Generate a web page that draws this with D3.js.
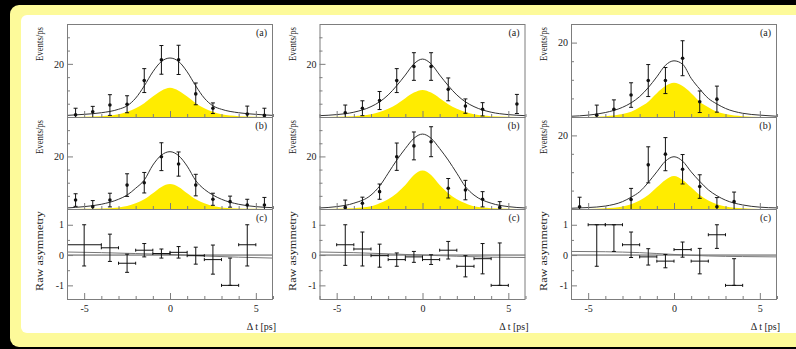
<!DOCTYPE html>
<html>
<head>
<meta charset="utf-8">
<script src="https://cdn.jsdelivr.net/npm/d3@7"></script>
<style>
  html, body { margin: 0; padding: 0; background: #000; }
  svg { display: block; }
  text { font-family: "Liberation Serif", "DejaVu Serif", serif; fill: #222; }
</style>
</head>
<body>
<svg id="chart" width="796" height="349"></svg>
<script>
// Sample points of the fitted curves (delta t in ps)
const curveT = [-6, -5, -4, -3, -2.5, -2, -1.5, -1, -0.5, 0, 0.5, 1, 1.5, 2, 2.5, 3, 4, 5, 6];

// column 1
const c1TotalA  = [0.6, 1.0, 1.6, 2.9, 4.2, 7.1, 11.7, 17.0, 20.9, 22.2, 20.9, 17.0, 11.7, 7.1, 4.2, 2.9, 1.6, 1.0, 0.6];
const c1SignalA = [0, 0.1, 0.3, 1.0, 2.0, 3.3, 5.2, 7.7, 9.9, 11.0, 9.9, 7.7, 5.2, 3.3, 2.0, 1.0, 0.3, 0.1, 0];
const c1TotalB  = [0.4, 0.9, 1.8, 3.7, 5.3, 7.9, 11.0, 16.7, 20.5, 21.8, 20.3, 16.3, 10.8, 7.5, 5.3, 3.7, 1.8, 0.9, 0.5];
const c1SignalB = [0, 0.1, 0.2, 0.6, 1.1, 2.2, 3.7, 6.0, 8.4, 9.5, 8.4, 6.0, 3.7, 2.2, 1.1, 0.6, 0.2, 0.1, 0];
// column 2
const c2TotalA  = [0.5, 0.9, 1.8, 3.9, 5.7, 8.3, 11.8, 15.8, 20.0, 21.8, 20.0, 15.8, 11.8, 8.3, 5.7, 3.9, 1.8, 0.9, 0.5];
const c2SignalA = [0, 0.1, 0.3, 1.0, 1.9, 3.1, 4.8, 7.1, 9.2, 10.2, 9.2, 7.1, 4.8, 3.1, 1.9, 1.0, 0.3, 0.1, 0];
const c2TotalB  = [0.4, 0.9, 2.2, 5.3, 8.7, 13.6, 18.6, 23.0, 26.9, 28.5, 26.9, 23.0, 18.6, 13.6, 8.5, 5.3, 2.2, 0.9, 0.4];
const c2SignalB = [0, 0.1, 0.3, 1.0, 2.2, 3.7, 6.0, 9.1, 12.9, 14.6, 12.9, 9.1, 6.0, 3.7, 2.2, 1.0, 0.3, 0.1, 0];
// column 3
const c3TotalA  = [0.2, 0.5, 1.2, 2.6, 3.8, 5.5, 7.9, 10.8, 13.9, 15.1, 14.2, 10.4, 7.5, 5.0, 3.5, 2.3, 1.0, 0.5, 0.2];
const c3SignalA = [0, 0, 0.2, 0.8, 1.4, 2.6, 4.1, 6.4, 8.3, 9.2, 8.3, 6.4, 4.1, 2.6, 1.4, 0.8, 0.2, 0, 0];
const c3TotalB  = [0.2, 0.4, 0.8, 2.0, 3.2, 4.7, 7.2, 10.1, 13.0, 14.2, 13.0, 10.1, 7.5, 5.2, 3.6, 2.4, 1.1, 0.5, 0.3];
const c3SignalB = [0, 0, 0.2, 0.7, 1.3, 2.3, 3.8, 5.9, 7.9, 9.0, 7.9, 5.9, 3.8, 2.3, 1.3, 0.7, 0.2, 0, 0];

// histogram points: [delta t, events/ps, error]
const c1PointsA = [[-5.5, 0.8, 2.5], [-4.5, 2.0, 2.0], [-3.5, 4.5, 3.9], [-2.5, 4.8, 3.2], [-1.5, 13.7, 4.5], [-0.5, 21.5, 5.4], [0.5, 21.5, 5.5], [1.5, 8.7, 4.1], [2.5, 3.3, 2.0], [4.5, 1.1, 3.0], [5.5, 0.6, 2.7]];
const c1PointsB = [[-5.5, 3.4, 2.4], [-4.5, 0.9, 2.3], [-3.5, 3.4, 2.6], [-2.5, 9.1, 4.3], [-1.5, 10.0, 3.9], [-0.5, 19.9, 5.3], [0.5, 17.1, 4.6], [1.5, 9.1, 4.1], [2.5, 3.7, 2.3], [3.5, 2.8, 2.1], [4.5, 1.5, 2.2], [5.5, 1.5, 2.9]];
const c2PointsA = [[-4.5, 1.6, 2.9], [-3.5, 3.3, 2.8], [-2.5, 6.2, 3.4], [-1.5, 13.7, 4.5], [-0.5, 19.0, 5.2], [0.5, 19.0, 5.2], [1.5, 10.4, 4.3], [2.5, 4.1, 2.7], [3.5, 2.9, 2.5], [5.5, 4.9, 3.6]];
const c2PointsB = [[-4.5, 0.6, 2.8], [-3.5, 2.2, 2.3], [-2.5, 6.6, 2.9], [-1.5, 19.9, 5.2], [-0.5, 24.0, 5.3], [0.5, 25.6, 5.7], [1.5, 7.9, 3.7], [2.5, 7.2, 3.7], [3.5, 3.7, 2.9], [4.5, 0.6, 2.2]];
const c3PointsA = [[-4.5, 0.5, 2.7], [-3.5, 2.1, 2.5], [-2.5, 5.9, 3.3], [-1.5, 9.8, 4.3], [-0.5, 9.8, 3.5], [0.5, 15.8, 4.7], [1.5, 4.1, 2.9], [2.5, 4.8, 3.5]];
const c3PointsB = [[-5.5, 0.6, 2.6], [-2.5, 2.6, 3.0], [-1.5, 12.0, 4.9], [-0.5, 14.9, 4.5], [0.5, 10.8, 4.0], [1.5, 6.1, 3.2], [2.5, 0.6, 2.5], [3.5, 2.0, 2.6]];

// raw asymmetry: [delta t, half bin width, asymmetry, error]
const c1Asym = [[-5, 1, 0.34, 0.7], [-3.5, 0.5, 0.24, 0.45], [-2.5, 0.5, -0.27, 0.3], [-1.5, 0.5, 0.16, 0.22], [-0.5, 0.5, 0.05, 0.15], [0.5, 0.5, 0.09, 0.19], [1.5, 0.5, -0.02, 0.28], [2.5, 0.5, -0.15, 0.48], [3.5, 0.5, -1.0, 0.9], [4.5, 0.5, 0.34, 0.7]];
const c2Asym = [[-4.5, 0.5, 0.34, 0.68], [-3.5, 0.5, 0.2, 0.56], [-2.5, 0.5, -0.02, 0.38], [-1.5, 0.5, -0.15, 0.22], [-0.5, 0.5, -0.06, 0.18], [0.5, 0.5, -0.15, 0.16], [1.5, 0.5, 0.16, 0.29], [2.5, 0.5, -0.37, 0.35], [3.5, 0.5, -0.12, 0.5], [4.5, 0.5, -1.0, 1.4]];
const c3Asym = [[-4.5, 0.5, 1.0, 1.37], [-3.5, 0.5, 1.0, 0.88], [-2.5, 0.5, 0.34, 0.42], [-1.5, 0.5, -0.06, 0.27], [-0.5, 0.5, -0.2, 0.22], [0.5, 0.5, 0.18, 0.25], [1.5, 0.5, -0.2, 0.42], [2.5, 0.5, 0.67, 0.45], [3.5, 0.5, -1.0, 0.88]];

// asymmetry fit lines
const asymT = [-6, -4, -2, 0, 2, 4, 6];
const c1AsymFit = [0.1, 0.08, 0.05, 0.02, -0.03, -0.07, -0.1];
const c2AsymFit = [0.1, 0.08, 0.04, 0, -0.04, -0.07, -0.08];
const c3AsymFit = [0.12, 0.11, 0.08, 0.02, -0.03, -0.05, -0.06];

// axis ticks
const xMajor = [-5, 0, 5];
const xMinor = [-6, -4, -3, -2, -1, 1, 2, 3, 4, 6];
const asymMajor = [-1, 0, 1];
const asymMinor = [-0.5, 0.5];

const columns = [
  { x0: 67,    yMax: 35, totA: c1TotalA, sigA: c1SignalA, totB: c1TotalB, sigB: c1SignalB, ptsA: c1PointsA, ptsB: c1PointsB, asym: c1Asym, fit: c1AsymFit },
  { x0: 319.5, yMax: 35, totA: c2TotalA, sigA: c2SignalA, totB: c2TotalB, sigB: c2SignalB, ptsA: c2PointsA, ptsB: c2PointsB, asym: c2Asym, fit: c2AsymFit },
  { x0: 571,   yMax: 25, totA: c3TotalA, sigA: c3SignalA, totB: c3TotalB, sigB: c3SignalB, ptsA: c3PointsA, ptsB: c3PointsB, asym: c3Asym, fit: c3AsymFit }
];

const panelW = 206;
const rowA = [24, 117], rowB = [117, 209], rowC = [209, 299];
const frameColor = "#7d7d7d";
const plainNum = d => String(d);   // ROOT style labels use a short hyphen

const svg = d3.select("#chart");

// background + yellow border + white page
svg.append("rect").attr("width", 796).attr("height", 349).attr("fill", "#000");
svg.append("rect").attr("x", 10).attr("y", 5).attr("width", 800).attr("height", 342)
  .attr("rx", 9).attr("fill", "#fdfa9a");
svg.append("rect").attr("x", 21).attr("y", 15).attr("width", 790).attr("height", 318)
  .attr("rx", 6).attr("fill", "#fff");

columns.forEach((col, ci) => {
  const g = svg.append("g");
  const x = d3.scaleLinear().domain([-6, 6]).range([col.x0, col.x0 + panelW]);

  function clip(id, top, bottom) {
    svg.append("clipPath").attr("id", id)
      .append("rect").attr("x", col.x0).attr("y", top).attr("width", panelW).attr("height", bottom - top);
    return "url(#" + id + ")";
  }

  function yTicks(y, major, minor) {
    g.append("g").attr("transform", `translate(${col.x0},0)`)
      .call(d3.axisLeft(y).tickValues(minor).tickSize(-3).tickFormat(""))
      .call(a => a.select(".domain").remove())
      .selectAll("line").attr("stroke", frameColor);
    const ax = g.append("g").attr("transform", `translate(${col.x0},0)`)
      .call(d3.axisLeft(y).tickValues(major).tickSize(-6).tickPadding(3).tickFormat(plainNum))
      .call(a => a.select(".domain").remove());
    ax.selectAll("line").attr("stroke", frameColor);
    ax.selectAll("text").attr("font-size", 10).attr("font-family", "Liberation Serif").attr("fill", "#222");
  }

  function xTicks(bottom, labels) {
    g.append("g").attr("transform", `translate(0,${bottom})`)
      .call(d3.axisBottom(x).tickValues(xMinor).tickSize(-3).tickFormat(""))
      .call(a => a.select(".domain").remove())
      .selectAll("line").attr("stroke", frameColor);
    const ax = g.append("g").attr("transform", `translate(0,${bottom})`)
      .call(d3.axisBottom(x).tickValues(xMajor).tickSize(-6).tickPadding(6).tickFormat(labels ? plainNum : ""))
      .call(a => a.select(".domain").remove());
    ax.selectAll("line").attr("stroke", frameColor);
    ax.selectAll("text").attr("font-size", 10).attr("font-family", "Liberation Serif").attr("fill", "#222");
  }

  function frame(top, bottom) {
    g.append("rect").attr("x", col.x0 + 0.5).attr("y", top + 0.5)
      .attr("width", panelW - 1).attr("height", bottom - top)
      .attr("fill", "none").attr("stroke", frameColor);
  }

  function histPanel(row, tot, sig, pts, label, id) {
    const [top, bottom] = row;
    const y = d3.scaleLinear().domain([0, col.yMax]).range([bottom, top]);
    const cp = clip(id, top, bottom);
    const data = curveT.map((t, i) => ({ t, tot: tot[i], sig: sig[i] }));

    g.append("path").datum(data).attr("clip-path", cp)
      .attr("fill", "#ffec00")
      .attr("d", d3.area().x(d => x(d.t)).y0(y(0)).y1(d => y(d.sig)).curve(d3.curveMonotoneX));
    g.append("path").datum(data).attr("clip-path", cp)
      .attr("fill", "none").attr("stroke", "#333").attr("stroke-width", 1)
      .attr("d", d3.line().x(d => x(d.t)).y(d => y(d.tot)).curve(d3.curveMonotoneX));

    const pg = g.append("g").attr("clip-path", cp).attr("stroke", "#111").attr("stroke-width", 1);
    pts.forEach(([t, v, e]) => {
      const px = x(t);
      const y1 = y(Math.max(0, v - e)), y2 = y(v + e);
      pg.append("line").attr("x1", px).attr("x2", px).attr("y1", y1).attr("y2", y2);
      pg.append("line").attr("x1", px - 2).attr("x2", px + 2).attr("y1", y2).attr("y2", y2);
      if (v - e > 0) pg.append("line").attr("x1", px - 2).attr("x2", px + 2).attr("y1", y1).attr("y2", y1);
      pg.append("circle").attr("cx", px).attr("cy", y(v)).attr("r", 1.8).attr("fill", "#111").attr("stroke", "none");
    });

    frame(top, bottom);
    yTicks(y, [20], col.yMax > 30 ? [5, 10, 15, 25, 30] : [5, 10, 15]);
    xTicks(bottom, false);

    g.append("text").attr("x", col.x0 + panelW - 6).attr("y", top + 12)
      .attr("text-anchor", "end").attr("font-size", 10).text(label);
    g.append("text")
      .attr("transform", `translate(${col.x0 - 24},${top + 3}) rotate(-90)`)
      .attr("text-anchor", "end").attr("font-size", 11)
      .attr("textLength", 34).attr("lengthAdjust", "spacingAndGlyphs")
      .text("Events/ps");
  }

  histPanel(rowA, col.totA, col.sigA, col.ptsA, "(a)", "clipA" + ci);
  histPanel(rowB, col.totB, col.sigB, col.ptsB, "(b)", "clipB" + ci);

  // asymmetry panel
  const [top, bottom] = rowC;
  const y = d3.scaleLinear().domain([-1.45, 1.52]).range([bottom, top]);
  const cp = clip("clipC" + ci, top, bottom);

  g.append("line").attr("clip-path", cp)
    .attr("x1", x(-6)).attr("x2", x(6)).attr("y1", y(0)).attr("y2", y(0))
    .attr("stroke", "#555").attr("stroke-width", 1);
  g.append("path").datum(asymT.map((t, i) => [t, col.fit[i]])).attr("clip-path", cp)
    .attr("fill", "none").attr("stroke", "#777").attr("stroke-width", 1)
    .attr("d", d3.line().x(d => x(d[0])).y(d => y(d[1])).curve(d3.curveMonotoneX));

  const ag = g.append("g").attr("clip-path", cp).attr("stroke", "#111").attr("stroke-width", 1);
  col.asym.forEach(([t, hw, v, e]) => {
    const px = x(t), py = y(v);
    const y1 = y(Math.max(-1, v - e)), y2 = y(Math.min(1, v + e));
    ag.append("line").attr("x1", x(t - hw)).attr("x2", x(t + hw)).attr("y1", py).attr("y2", py);
    ag.append("line").attr("x1", x(t - hw)).attr("x2", x(t - hw)).attr("y1", py - 1.5).attr("y2", py + 1.5);
    ag.append("line").attr("x1", x(t + hw)).attr("x2", x(t + hw)).attr("y1", py - 1.5).attr("y2", py + 1.5);
    ag.append("line").attr("x1", px).attr("x2", px).attr("y1", y1).attr("y2", y2);
    ag.append("line").attr("x1", px - 2).attr("x2", px + 2).attr("y1", y1).attr("y2", y1);
    ag.append("line").attr("x1", px - 2).attr("x2", px + 2).attr("y1", y2).attr("y2", y2);
  });

  frame(top, bottom);
  yTicks(y, asymMajor, asymMinor);
  xTicks(bottom, true);

  g.append("text").attr("x", col.x0 + panelW - 6).attr("y", top + 12)
    .attr("text-anchor", "end").attr("font-size", 10).text("(c)");
  g.append("text")
    .attr("transform", `translate(${col.x0 - 24},${top + 2}) rotate(-90)`)
    .attr("text-anchor", "end").attr("font-size", 11)
    .attr("textLength", 80).attr("lengthAdjust", "spacingAndGlyphs")
    .text("Raw asymmetry");
  g.append("text").attr("x", col.x0 + panelW + 3).attr("y", 330)
    .attr("text-anchor", "end").attr("font-size", 10).text("Δ t [ps]");
});
</script>
</body>
</html>
